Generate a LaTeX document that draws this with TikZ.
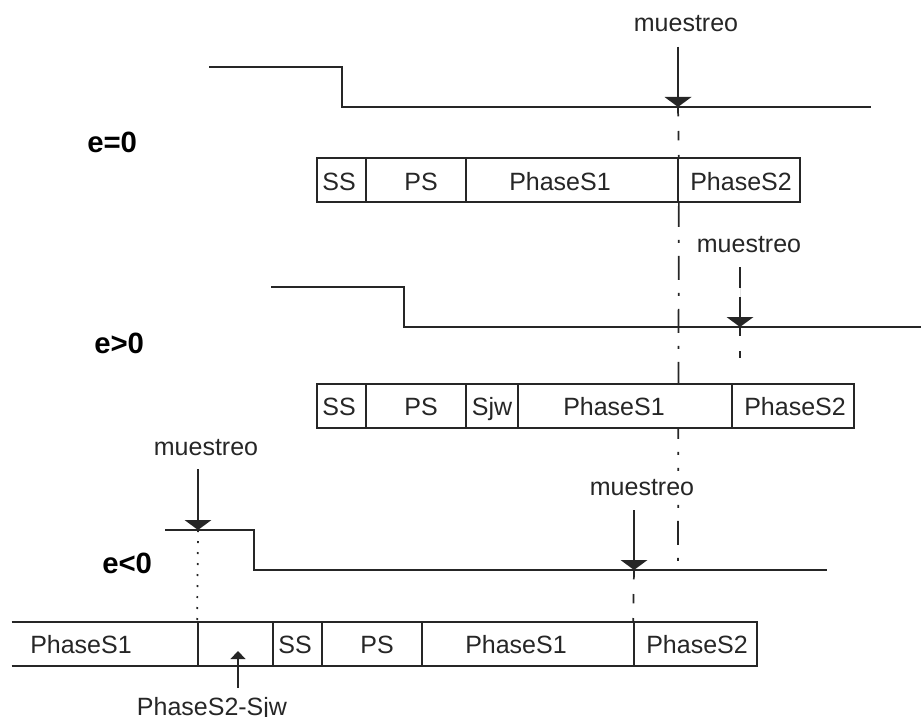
\documentclass[tikz,border=0pt]{standalone}
\usepackage{fontspec}
\setmainfont{Liberation Sans}
\usetikzlibrary{arrows.meta,fit}
\begin{document}
\begin{tikzpicture}[x=0.75pt,y=-0.75pt,
  ink/.style={line width=1.3pt, draw=black!85},
  wire/.style={ink, line join=miter},
  cell/.style={ink, fill=white, inner sep=0pt},
  openrow/.style={inner sep=0pt},
  lbl/.style={font=\fontsize{18.75}{22}\selectfont, inner sep=0pt, anchor=base, text=black!85},
  case/.style={font=\fontsize{22}{26}\selectfont\bfseries, inner sep=0pt, anchor=base west},
  probe/.style={ink, -{Triangle[width=20pt,length=7.5pt]}, fill=black!85},
  probedash/.style={probe, dash pattern=on 15.75pt off 6.75pt},
  shortdash/.style={ink, dash pattern=on 7pt off 11pt},
  dashdot/.style={ink, dash pattern=on 18pt off 9.75pt on 2.25pt off 9.75pt},
  dotline/.style={ink, dash pattern=on 1.5pt off 6.75pt},
  pointer/.style={ink, -{Triangle[width=11pt,length=6pt]}, fill=black!85},
]
\useasboundingbox (0,0) rectangle (921,717);

% ---------- case e = 0 ----------
\node[case] (c1) at (87,152) {e=0};
\draw[wire] (209,67) -- (342,67) -- (342,107) -- (871,107);
\node[lbl] (m1) at (686,32) {muestreo};
\coordinate (a1) at (678,47);
\coordinate (t1) at (678,107);

\node[cell, fit={(317,158) (366,202)}] (r1ss) {};
\node[cell, fit={(366,158) (466,202)}] (r1ps) {};
\node[cell, fit={(466,158) (678,202)}] (r1p1) {};
\node[cell, fit={(678,158) (800,202)}] (r1p2) {};
\node[lbl] (r1ssT) at (339,190) {SS};
\node[lbl] (r1psT) at (421,190) {PS};
\node[lbl] (r1p1T) at (560,190) {PhaseS1};
\node[lbl] (r1p2T) at (741,190) {PhaseS2};

\draw[probe] (a1) -- (t1);
\draw[shortdash] (t1) -- (r1p1.north east);

% sampling instant of the nominal case, carried down through the other cases
\coordinate (e3) at (678,563);
\draw[dashdot] (r1p1.south east) -- (e3);

% ---------- case e > 0 ----------
\node[case] (c2) at (94,353) {e>0};
\draw[wire] (271,287) -- (404,287) -- (404,327) -- (921,327);
\node[lbl] (m2) at (749,252) {muestreo};
\coordinate (a2) at (740,267);
\coordinate (t2) at (740,327);
\coordinate (b2) at (740,358);
\draw[probedash] (a2) -- (t2);
\draw[shortdash] (t2) -- (b2);

\node[cell, fit={(317,384) (366,428)}] (r2ss) {};
\node[cell, fit={(366,384) (466,428)}] (r2ps) {};
\node[cell, fit={(466,384) (518,428)}] (r2sj) {};
\node[cell, fit={(518,384) (732,428)}] (r2p1) {};
\node[cell, fit={(732,384) (854,428)}] (r2p2) {};
\node[lbl] (r2ssT) at (339,415) {SS};
\node[lbl] (r2psT) at (421,415) {PS};
\node[lbl] (r2sjT) at (492,415) {Sjw};
\node[lbl] (r2p1T) at (614,415) {PhaseS1};
\node[lbl] (r2p2T) at (795,415) {PhaseS2};

% ---------- case e < 0 ----------
\node[case] (c3) at (102,573) {e<0};
\draw[wire] (165,530) -- (254,530) -- (254,570) -- (827,570);
\node[lbl] (m3) at (206,455) {muestreo};
\node[lbl, fill=white, inner ysep=6pt] (m4) at (642,495) {muestreo};

\node[openrow, fit={(12,622) (198,666)}] (r3pa) {};
\draw[ink] (r3pa.north west) -- (r3pa.north east)
           (r3pa.south west) -- (r3pa.south east);
\node[cell, fit={(198,622) (273,666)}] (r3sj) {};
\node[cell, fit={(273,622) (322,666)}] (r3ss) {};
\node[cell, fit={(322,622) (422,666)}] (r3ps) {};
\node[cell, fit={(422,622) (634,666)}] (r3p1) {};
\node[cell, fit={(634,622) (757,666)}] (r3p2) {};
\node[lbl] (r3paT) at (81,653) {PhaseS1};
\node[lbl] (r3ssT) at (295,653) {SS};
\node[lbl] (r3psT) at (377,653) {PS};
\node[lbl] (r3p1T) at (516,653) {PhaseS1};
\node[lbl] (r3p2T) at (697,653) {PhaseS2};

\coordinate (a3) at (198,469);
\coordinate (t3) at (198,530);
\draw[probe] (a3) -- (t3);
\draw[dotline] (t3) -- (r3sj.north west);

\coordinate (a4) at (634,510);
\coordinate (t4) at (634,570);
\draw[probe] (a4) -- (t4);
\draw[shortdash] (t4) -- (r3p2.north west);

\node[lbl] (sjw) at (212,715) {PhaseS2-Sjw};
\coordinate (p0) at (238,688);
\coordinate (p1) at (238,651);
\draw[pointer] (p0) -- (p1);
\end{tikzpicture}
\end{document}
